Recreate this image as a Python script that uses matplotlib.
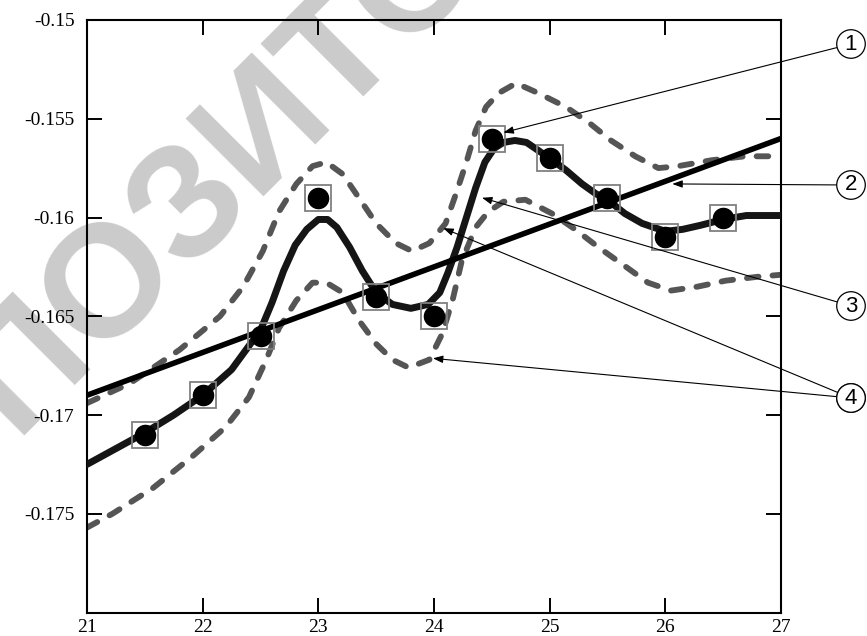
from __future__ import annotations

import matplotlib

matplotlib.use("Agg")
import matplotlib.pyplot as plt

# measured points (circle + square markers)
x_points = [21.5, 22.0, 22.5, 23.0, 23.5, 24.0, 24.5, 25.0, 25.5, 26.0, 26.5]
y_points = [-0.171, -0.169, -0.166, -0.159, -0.164, -0.165, -0.156, -0.157, -0.159, -0.161, -0.160]

# smooth fitted curve (3)
x_fit = [21.0, 21.25, 21.5, 21.75, 22.0, 22.25, 22.5, 22.6, 22.7, 22.8, 22.9, 23.0, 23.08,
         23.16, 23.27, 23.38, 23.5, 23.64, 23.8, 23.95, 24.05, 24.12, 24.2, 24.28, 24.36,
         24.44, 24.52, 24.6, 24.7, 24.8, 24.9, 25.0, 25.14, 25.28, 25.4, 25.5, 25.65, 25.8,
         26.0, 26.15, 26.3, 26.5, 26.7, 27.0]
y_fit = [-0.1725, -0.1717, -0.1709, -0.1700, -0.1690, -0.1677, -0.1657, -0.1643, -0.1627,
         -0.1614, -0.1606, -0.1601, -0.1601, -0.1605, -0.1615, -0.1627, -0.1638, -0.1644,
         -0.1646, -0.1644, -0.1638, -0.1628, -0.1615, -0.1600, -0.1585, -0.1572, -0.1565,
         -0.1562, -0.1561, -0.1562, -0.1566, -0.1570, -0.1576, -0.1583, -0.1588, -0.1591,
         -0.1598, -0.1603, -0.1607, -0.1606, -0.1604, -0.1601, -0.1599, -0.1599]

# upper and lower dashed bounds (4)
x_upper = [21.0, 21.37, 21.8, 22.15, 22.35, 22.52, 22.66, 22.81, 22.95, 23.07, 23.21, 23.35,
           23.5, 23.67, 23.81, 23.96, 24.1, 24.19, 24.28, 24.36, 24.45, 24.56, 24.71, 24.9,
           25.14, 25.34, 25.53, 25.74, 25.94, 26.11, 26.4, 26.69, 27.0]
y_upper = [-0.1694, -0.1684, -0.1667, -0.1650, -0.1635, -0.1617, -0.1597, -0.1583, -0.1574,
           -0.1572, -0.1578, -0.1590, -0.1603, -0.1613, -0.1617, -0.1613, -0.1603, -0.1588,
           -0.1572, -0.1556, -0.1544, -0.1537, -0.1532, -0.1537, -0.1544, -0.1552, -0.1561,
           -0.1569, -0.1575, -0.1574, -0.1571, -0.1569, -0.1569]
x_lower = [21.0, 21.22, 21.57, 21.91, 22.2, 22.4, 22.55, 22.66, 22.81, 22.95, 23.07, 23.21,
           23.35, 23.5, 23.64, 23.78, 23.96, 24.07, 24.16, 24.24, 24.36, 24.47, 24.6, 24.79,
           25.02, 25.22, 25.42, 25.66, 25.85, 26.05, 26.28, 26.52, 26.8, 27.0]
y_lower = [-0.1757, -0.1750, -0.1737, -0.1721, -0.1706, -0.1691, -0.1672, -0.1656, -0.1642,
           -0.1633, -0.1633, -0.1638, -0.1652, -0.1664, -0.1672, -0.1676, -0.1672, -0.1659,
           -0.1642, -0.1622, -0.1605, -0.1597, -0.1592, -0.1591, -0.1598, -0.1606, -0.1615,
           -0.1625, -0.1633, -0.1637, -0.1635, -0.1632, -0.1630, -0.1629]

# linear trend (2)
x_trend = [21.0, 27.0]
y_trend = [-0.169, -0.156]

x_ticks = [21, 22, 23, 24, 25, 26, 27]
y_ticks = [-0.175, -0.17, -0.165, -0.16, -0.155, -0.15]
y_tick_labels = ["-0.175", "-0.17", "-0.165", "-0.16", "-0.155", "-0.15"]

# callout labels: text, arrow tip (data), circle centre (figure pixels, from top)
callout_labels = ["1", "2", "3", "4", "4"]
callout_tips = [(24.6, -0.1557), (26.06, -0.1583), (24.415, -0.1590), (24.08, -0.16054), (23.99, -0.16713)]
callout_centres = [(851, 44), (851, 185), (851, 306), (851, 398), (851, 398)]

W, H = 867, 636


def main() -> None:
    fig = plt.figure(figsize=(W / 100, H / 100), dpi=100)
    ax = fig.add_axes([87 / W, 1 - 612.5 / H, (781 - 87) / W, (612.5 - 20) / H])
    ax.set_facecolor("none")
    ax.set_zorder(2)

    # faint repository watermark behind everything
    fig.text(14 / W, 1 - 436 / H, "ПОЗИТОРИЙ", rotation=45, rotation_mode="anchor",
             ha="left", va="baseline", fontsize=115, fontweight="bold",
             family="Liberation Sans", color="#cbcbcb", zorder=0)

    ax.plot(x_upper, y_upper, color="#555555", lw=4.2, dashes=(2.0, 2.4),
            dash_capstyle="round", zorder=2)
    ax.plot(x_lower, y_lower, color="#555555", lw=4.2, dashes=(2.0, 2.4),
            dash_capstyle="round", zorder=2)
    ax.plot(x_fit, y_fit, color="#151515", lw=5.0, solid_capstyle="round", zorder=3)
    ax.plot(x_trend, y_trend, color="black", lw=4.0, zorder=4)
    ax.plot(x_points, y_points, ls="none", marker="s", ms=19, mfc="none",
            mec="#808080", mew=1.3, zorder=5)
    ax.plot(x_points, y_points, ls="none", marker="o", ms=14.5, mfc="black",
            mec="black", zorder=6)

    for label, tip, centre in zip(callout_labels, callout_tips, callout_centres):
        ax.annotate(label, xy=tip, xycoords="data",
                    xytext=(centre[0], H - centre[1]), textcoords="figure pixels",
                    ha="center", va="center", fontsize=16, family="Liberation Sans",
                    bbox=dict(boxstyle="circle,pad=0.17", fc="white", ec="black", lw=0.9),
                    arrowprops=dict(arrowstyle="-|>,head_length=0.6,head_width=0.22",
                                    mutation_scale=10, color="black", lw=0.8,
                                    shrinkA=0, shrinkB=0),
                    annotation_clip=False, zorder=7)

    ax.set_xlim(21, 27)
    ax.set_ylim(-0.18, -0.15)
    ax.set_xticks(x_ticks)
    ax.set_xticklabels([str(t) for t in x_ticks])
    ax.set_yticks(y_ticks)
    ax.set_yticklabels(y_tick_labels)
    ax.tick_params(direction="in", length=11, width=1.4, top=True, right=True,
                   labelsize=14, pad=9)
    ax.tick_params(axis="x", pad=5)
    for lab in ax.get_xticklabels() + ax.get_yticklabels():
        lab.set_family("Liberation Serif")
    for spine in ax.spines.values():
        spine.set_linewidth(1.5)

    fig.savefig("out.png", dpi=100)
    plt.close(fig)


if __name__ == "__main__":
    main()
